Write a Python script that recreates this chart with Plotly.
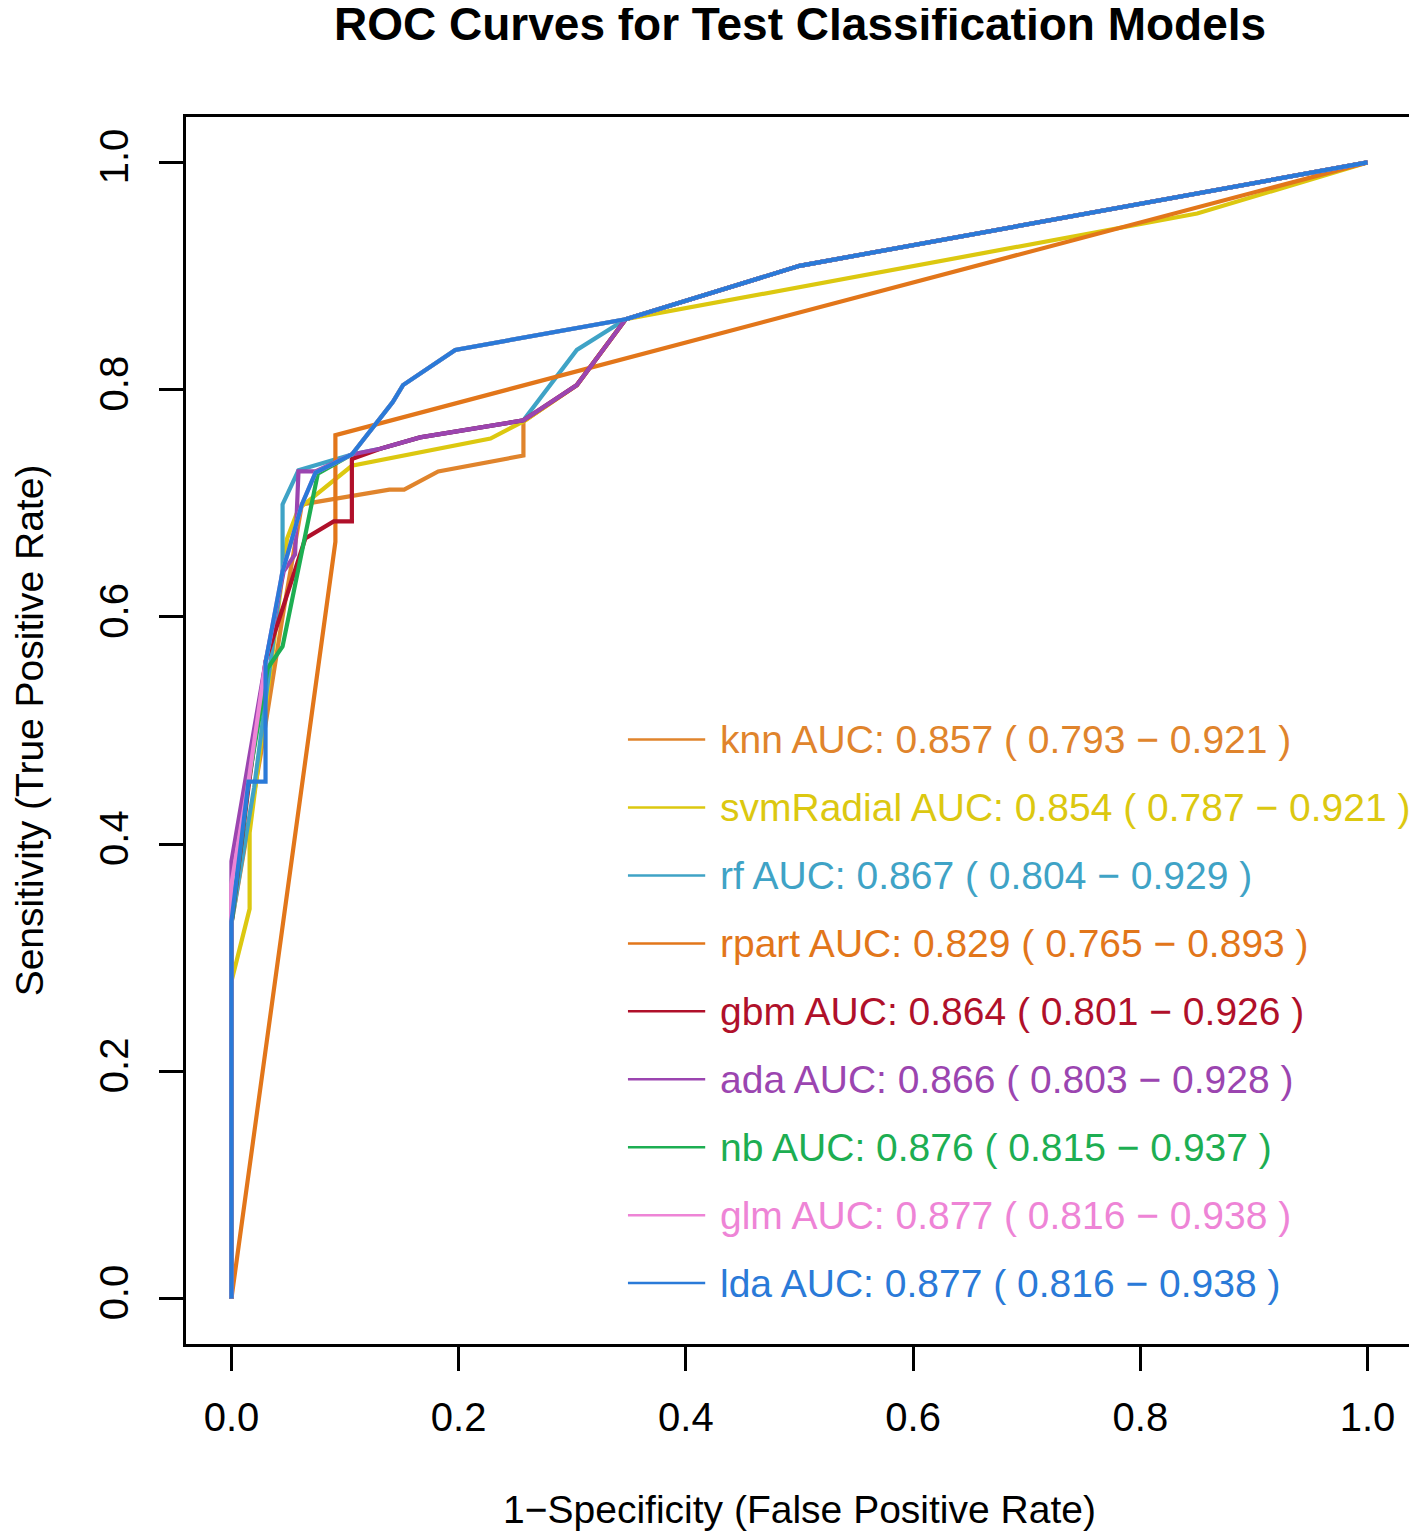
import plotly.graph_objects as go

# ROC curve points (x = 1-specificity, y = sensitivity)
knn_fpr = [0, 0, 0.026, 0.045, 0.062, 0.139, 0.152, 0.182, 0.257, 0.257, 0.304, 0.347, 0.5, 1]
knn_tpr = [0, 0.33, 0.48, 0.60, 0.699, 0.712, 0.712, 0.728, 0.742, 0.772, 0.804, 0.862, 0.909, 1]

svm_fpr = [0, 0, 0.016, 0.016, 0.049, 0.059, 0.106, 0.131, 0.228, 0.257, 0.304, 0.347, 0.85, 1]
svm_tpr = [0, 0.279, 0.343, 0.41, 0.669, 0.695, 0.733, 0.738, 0.757, 0.772, 0.804, 0.862, 0.955, 1]

rf_fpr = [0, 0, 0.02, 0.045, 0.045, 0.059, 0.106, 0.131, 0.166, 0.257, 0.304, 0.347, 0.5, 1]
rf_tpr = [0, 0.33, 0.45, 0.642, 0.699, 0.729, 0.743, 0.748, 0.758, 0.773, 0.835, 0.862, 0.909, 1]

rpart_fpr = [0, 0.0915, 0.0915, 1]
rpart_tpr = [0, 0.666, 0.760, 1]

gbm_fpr = [0, 0, 0.015, 0.03, 0.065, 0.09, 0.106, 0.106, 0.131, 0.166, 0.257, 0.304, 0.347, 0.5, 1]
gbm_tpr = [0, 0.33, 0.45, 0.561, 0.669, 0.684, 0.684, 0.739, 0.748, 0.758, 0.773, 0.804, 0.862, 0.909, 1]

ada_fpr = [0, 0, 0.03, 0.046, 0.056, 0.059, 0.074, 0.106, 0.131, 0.166, 0.257, 0.304, 0.347, 0.5, 1]
ada_tpr = [0, 0.385, 0.56, 0.640, 0.655, 0.728, 0.728, 0.743, 0.748, 0.758, 0.773, 0.804, 0.862, 0.909, 1]

nb_fpr = [0, 0, 0.015, 0.032, 0.045, 0.076, 0.106, 0.142, 0.151, 0.197, 0.347, 0.5, 1]
nb_tpr = [0, 0.33, 0.455, 0.555, 0.574, 0.726, 0.743, 0.789, 0.804, 0.835, 0.862, 0.909, 1]

glm_fpr = [0, 0, 0.015, 0.03, 0.045, 0.062, 0.074, 0.106, 0.142, 0.151, 0.197, 0.347, 0.5, 1]
glm_tpr = [0, 0.365, 0.455, 0.56, 0.64, 0.699, 0.727, 0.743, 0.789, 0.804, 0.835, 0.862, 0.909, 1]

lda_fpr = [0, 0, 0.015, 0.03, 0.03, 0.045, 0.062, 0.074, 0.106, 0.142, 0.151, 0.197, 0.347, 0.5, 1]
lda_tpr = [0, 0.332, 0.455, 0.455, 0.56, 0.64, 0.699, 0.727, 0.743, 0.789, 0.804, 0.835, 0.862, 0.909, 1]

models = ["knn", "svmRadial", "rf", "rpart", "gbm", "ada", "nb", "glm", "lda"]
auc = ["0.857", "0.854", "0.867", "0.829", "0.864", "0.866", "0.876", "0.877", "0.877"]
ci_low = ["0.793", "0.787", "0.804", "0.765", "0.801", "0.803", "0.815", "0.816", "0.816"]
ci_high = ["0.921", "0.921", "0.929", "0.893", "0.926", "0.928", "0.937", "0.938", "0.938"]
colors = ["#E0842C", "#DCC810", "#3FA3C6", "#E2761A", "#B0102A",
          "#9B45B0", "#1DAE52", "#EE84D6", "#2A7AD8"]

curves = [(knn_fpr, knn_tpr), (svm_fpr, svm_tpr), (rf_fpr, rf_tpr),
          (rpart_fpr, rpart_tpr), (gbm_fpr, gbm_tpr), (ada_fpr, ada_tpr),
          (nb_fpr, nb_tpr), (glm_fpr, glm_tpr), (lda_fpr, lda_tpr)]

FONT = "Liberation Sans, Arial, sans-serif"

fig = go.Figure()
for name, (fx, ty), col in zip(models, curves, colors):
    fig.add_trace(go.Scatter(x=fx, y=ty, mode="lines", name=name,
                             line=dict(color=col, width=4.2),
                             showlegend=False))

# hand-built legend, R style (line + coloured text, no box)
leg_x0, leg_x1, leg_tx = 0.349, 0.417, 0.428
leg_y0, leg_step = 0.492, 0.0598
for i, (name, col) in enumerate(zip(models, colors)):
    yy = leg_y0 - i * leg_step
    fig.add_shape(type="line", xref="x", yref="y", x0=leg_x0, x1=leg_x1,
                  y0=yy, y1=yy, line=dict(color=col, width=2.5))
    txt = f"{name} AUC: {auc[i]} ( {ci_low[i]} \u2212 {ci_high[i]} )"
    fig.add_annotation(x=leg_tx, y=yy, xref="x", yref="y", text=txt,
                       showarrow=False, xanchor="left", yanchor="middle",
                       font=dict(family=FONT, size=39, color=col))

# main title, placed above the plot box
fig.add_annotation(text="<b>ROC Curves for Test Classification Models</b>",
                   xref="paper", yref="paper", x=0.5, y=1.0758,
                   xanchor="center", yanchor="middle", showarrow=False,
                   font=dict(family=FONT, size=46, color="black"))

axis_common = dict(
    range=[-0.04, 1.04], tickvals=[0, 0.2, 0.4, 0.6, 0.8, 1.0],
    ticktext=["0.0", "0.2", "0.4", "0.6", "0.8", "1.0"],
    showgrid=False, zeroline=False, showline=True, mirror=True,
    linecolor="black", linewidth=2.5, ticks="outside", ticklen=24,
    tickwidth=2.5, tickcolor="black",
    automargin=False,
    tickfont=dict(family=FONT, size=40, color="black"),
)

fig.update_layout(
    width=1417, height=1535,
    margin=dict(l=178, r=12, t=109, b=199),
    plot_bgcolor="white", paper_bgcolor="white",
    xaxis=dict(**axis_common, ticklabelstandoff=12,
               title=dict(text="1\u2212Specificity (False Positive Rate)", standoff=58,
                          font=dict(family=FONT, size=39, color="black"))),
    yaxis=dict(**axis_common, tickangle=-90, ticklabelstandoff=15,
               title=dict(text="Sensitivity (True Positive Rate)", standoff=62,
                          font=dict(family=FONT, size=39, color="black"))),
)

fig.write_html("out.html")
